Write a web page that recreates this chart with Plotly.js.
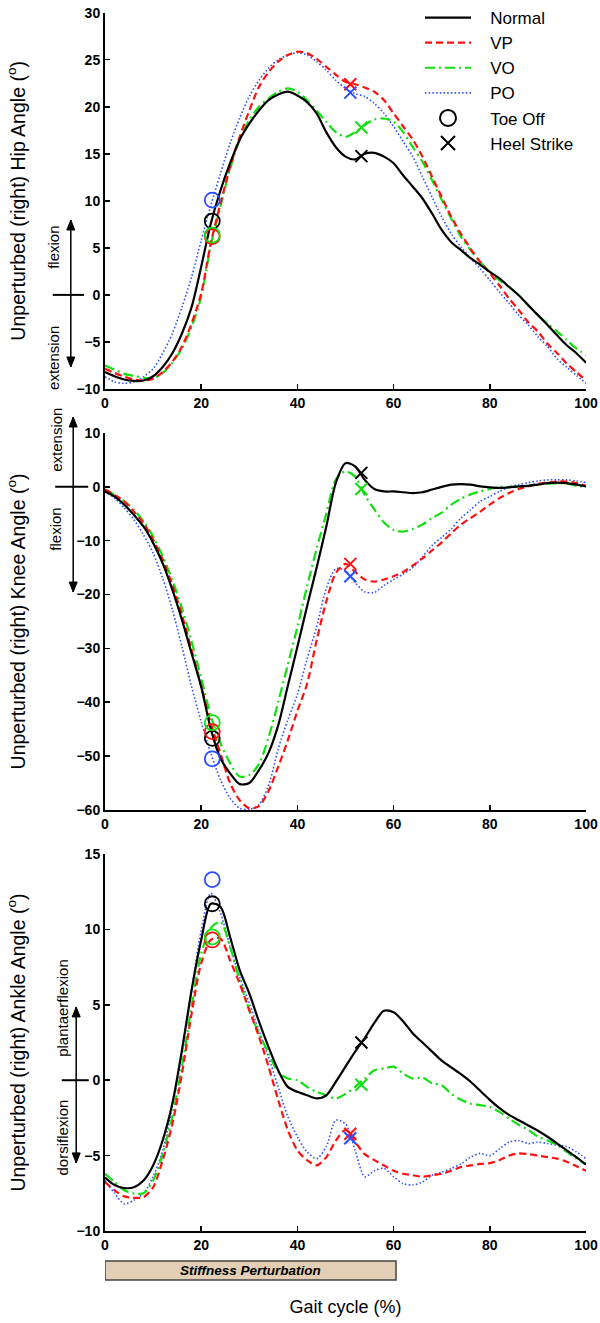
<!DOCTYPE html>
<html>
<head>
<meta charset="utf-8">
<script src="https://cdn.plot.ly/plotly-3.0.1.min.js"></script>
<style>
  html, body { margin: 0; padding: 0; background: #ffffff; }
  #plot { width: 600px; height: 1323px; }
</style>
</head>
<body>
<div id="plot"></div>
<script>
// gait cycle sample points (%)
const GAIT = [0, 2, 4, 6, 8, 10, 12, 14, 16, 18, 20, 22, 24, 26, 28, 30, 32, 34, 36, 38, 40,
  42, 44, 46, 48, 50, 52, 54, 56, 58, 60, 62, 64, 66, 68, 70, 72, 74, 76, 78, 80,
  82, 84, 86, 88, 90, 92, 94, 96, 98, 100];

const SERIES = ["Normal", "VP", "VO", "PO"];

// hip angle (deg)
const HIP_NORMAL = [-8.2, -8.65, -9.0, -9.15, -9.1, -8.65, -7.66, -6.2, -4.1, -1.3, 3.0, 7.6, 11.1, 14.0, 16.5, 18.2, 19.6, 20.7, 21.3, 21.6, 21.2,
  20.5, 19.3, 17.3, 15.7, 14.7, 14.4, 15.0, 15.1, 14.7, 14.0, 12.7, 11.5, 10.25, 8.65, 6.9, 5.6, 4.75, 3.9, 3.2, 2.45,
  1.75, 0.85, -0.04, -1.1, -2.15, -3.2, -4.3, -5.35, -6.2, -7.2];
const HIP_VP = [-7.85, -8.3, -8.7, -9.0, -9.1, -8.9, -8.2, -7.1, -5.5, -3.05, 0.14, 5.5, 9.7, 13.6, 16.8, 19.6, 22.1, 23.7, 24.8, 25.5, 25.85,
  25.7, 25.1, 24.25, 23.4, 22.65, 22.4, 22.05, 21.6, 20.7, 19.3, 17.9, 16.5, 14.7, 12.55, 10.4, 8.3, 6.5, 4.9, 3.5, 2.3,
  1.0, -0.4, -1.6, -2.9, -3.9, -5.2, -6.2, -7.3, -8.2, -9.1];
const HIP_VO = [-7.5, -7.95, -8.4, -8.6, -8.8, -8.9, -8.3, -7.2, -5.7, -3.4, -0.2, 5.3, 9.4, 13.4, 16.5, 18.6, 20.0, 20.9, 21.6, 21.95, 21.6,
  20.7, 19.6, 18.4, 17.3, 16.8, 17.3, 18.05, 18.65, 18.75, 18.4, 17.3, 15.7, 14.15, 12.2, 10.1, 8.1, 6.2, 4.75, 3.5, 2.45,
  1.55, 0.85, -0.04, -1.1, -2.15, -3.05, -3.9, -4.8, -5.7, -6.4];
const HIP_PO = [-8.7, -9.25, -9.4, -9.25, -8.7, -7.85, -6.2, -4.1, -1.3, 1.9, 5.8, 9.5, 12.9, 16.1, 18.8, 21.1, 22.8, 24.1, 25.0, 25.5, 25.75,
  25.5, 24.8, 23.9, 22.8, 21.95, 21.4, 21.1, 20.35, 19.3, 17.9, 16.3, 14.7, 12.55, 10.4, 8.3, 6.5, 5.1, 3.9, 2.8, 1.55,
  0.3, -0.9, -2.15, -3.2, -4.45, -5.5, -6.8, -7.7, -8.55, -9.4];

// knee angle (deg)
const KNEE_NORMAL = [-0.85, -1.8, -3.3, -5.2, -7.35, -10.4, -14.2, -19.1, -24.7, -30.9, -37.1, -45.0, -50.4, -53.2, -55.2, -55.0, -52.6, -49.4, -44.3, -37.0, -29.7,
  -22.2, -15.0, -7.4, 0.8, 4.4, 3.8, 1.3, -0.4, -0.85, -0.85, -1.0, -1.15, -1.0, -0.5, 0.0, 0.4, 0.5, 0.4, 0.1, -0.1,
  -0.2, -0.1, 0.1, 0.2, 0.4, 0.7, 0.8, 0.7, 0.4, 0.1];
const KNEE_VP = [-0.5, -1.5, -2.7, -4.6, -6.7, -9.8, -13.5, -18.2, -23.8, -30.3, -37.1, -44.0, -49.5, -55.0, -58.2, -59.7, -59.3, -56.5, -52.0, -47.1, -41.6,
  -36.6, -28.5, -21.3, -16.0, -14.3, -15.8, -17.2, -17.6, -17.2, -16.6, -15.8, -14.6, -13.3, -11.8, -10.3, -8.6, -7.0, -5.8, -4.6, -3.3,
  -2.1, -1.15, -0.4, 0.1, 0.6, 0.8, 1.0, 1.0, 0.7, 0.2];
const KNEE_VO = [-0.5, -1.5, -2.7, -4.25, -6.4, -9.2, -12.9, -17.3, -22.5, -28.7, -35.5, -42.5, -47.6, -51.3, -53.8, -53.5, -51.5, -46.5, -40.0, -33.0, -26.0,
  -18.5, -11.5, -5.0, 1.4, 2.9, 1.9, -1.5, -4.2, -6.6, -8.0, -8.3, -7.8, -7.0, -5.8, -4.8, -3.3, -2.2, -1.4, -0.85, -0.4,
  0.0, 0.0, 0.0, 0.2, 0.4, 0.6, 0.7, 0.6, 0.2, 0.0];
const KNEE_PO = [-0.85, -2.1, -3.9, -6.1, -8.9, -12.3, -17.0, -22.8, -29.7, -37.1, -43.6, -49.5, -54.4, -57.8, -59.7, -59.9, -59.0, -55.5, -48.7, -43.3, -38.5,
  -32.0, -26.0, -18.9, -15.2, -15.6, -17.8, -19.5, -19.6, -18.3, -17.2, -16.2, -15.0, -13.0, -10.9, -9.4, -7.8, -5.8, -4.25, -2.7, -1.8,
  -0.85, 0.0, 0.4, 0.8, 1.1, 1.3, 1.3, 1.3, 1.1, 0.8];

// ankle angle (deg)
const ANKLE_NORMAL = [-6.45, -6.95, -7.15, -7.1, -6.65, -5.65, -3.98, -1.55, 2.0, 5.97, 9.3, 11.7, 11.5, 9.5, 7.3, 5.75, 3.9, 2.2, 0.66, -0.44, -0.77,
  -1.0, -1.2, -1.0, -0.1, 0.9, 1.9, 2.8, 3.8, 4.6, 4.5, 3.9, 3.1, 2.5, 1.9, 1.3, 0.85, 0.4, -0.1, -0.7, -1.3,
  -1.85, -2.3, -2.65, -3.0, -3.35, -3.75, -4.2, -4.65, -5.1, -5.6];
const ANKLE_VP = [-6.75, -7.3, -7.7, -7.8, -7.75, -7.1, -5.3, -2.9, 0.44, 4.4, 7.75, 9.3, 9.4, 7.95, 6.4, 4.65, 2.9, 0.9, -1.3, -3.3, -4.65,
  -5.3, -5.65, -5.1, -4.0, -3.3, -4.1, -4.9, -5.3, -5.65, -6.0, -6.2, -6.3, -6.4, -6.3, -6.2, -6.0, -5.75, -5.65, -5.55, -5.5,
  -5.3, -5.0, -4.85, -4.9, -5.0, -5.1, -5.2, -5.4, -5.7, -6.0];
const ANKLE_VO = [-6.2, -6.75, -7.3, -7.5, -7.5, -6.65, -4.9, -2.4, 0.9, 4.9, 8.4, 10.1, 10.5, 8.85, 6.6, 4.65, 3.1, 1.8, 0.55, 0.11, 0.0,
  -0.44, -0.77, -1.0, -1.2, -0.9, -0.44, 0.11, 0.66, 0.77, 0.9, 0.44, 0.11, 0.18, -0.2, -0.33, -0.9, -1.3, -1.55, -1.65, -1.77,
  -2.1, -2.55, -2.95, -3.3, -3.75, -4.0, -4.3, -4.75, -5.2, -5.55];
const ANKLE_PO = [-6.65, -7.5, -8.2, -7.95, -7.5, -6.4, -4.65, -1.77, 1.77, 5.97, 9.95, 12.4, 11.1, 8.85, 6.85, 5.1, 3.3, 1.55, -0.44, -2.4, -3.75,
  -4.75, -5.2, -4.4, -2.65, -2.9, -4.65, -6.4, -6.0, -5.85, -6.4, -6.85, -6.95, -6.75, -6.3, -6.1, -5.85, -5.55, -5.1, -4.85, -5.0,
  -4.55, -4.1, -4.0, -4.2, -4.1, -4.2, -4.3, -4.4, -4.75, -5.2];

// events, order: Normal, VP, VO, PO
const TOE_OFF_X = [22.3, 22.3, 22.3, 22.3];
const HIP_TOE_OFF = [7.85, 6.2, 6.35, 10.07];
const KNEE_TOE_OFF = [-46.7, -45.45, -43.8, -50.5];
const ANKLE_TOE_OFF = [11.7, 9.3, 9.5, 13.3];
const HEEL_X = [53.3, 51, 53.3, 51];
const HIP_HEEL = [14.75, 22.4, 17.8, 21.5];
const KNEE_HEEL = [2.6, -14.3, -0.4, -16.6];
const ANKLE_HEEL = [2.5, -3.55, -0.3, -3.85];

const PERTURB_RANGE = [0, 60.5];

const FONT = "Liberation Sans, Arial, Helvetica, sans-serif";
const COLORS = { Normal: "#000000", VP: "#ff1010", VO: "#10e010", PO: "#2a4dff" };
const LINES = {
  Normal: { width: 2.2, dash: "solid" },
  VP: { width: 2.2, dash: "7px,4px" },
  VO: { width: 2.2, dash: "10px,4px,2px,4px" },
  PO: { width: 1.6, dash: "1.5px,2.2px" },
};
const DRAW_ORDER = ["PO", "VO", "VP", "Normal"];
const GAP = "&nbsp;&nbsp;&nbsp;";

function panelTraces(xa, ya, values, toeOff, heel, withLegend) {
  const traces = [];
  for (const name of DRAW_ORDER) {
    traces.push({
      type: "scatter",
      mode: "lines",
      name: GAP + name,
      x: GAIT,
      y: values[name],
      xaxis: xa,
      yaxis: ya,
      line: { color: COLORS[name], width: LINES[name].width, dash: LINES[name].dash, shape: "spline", smoothing: 0.8 },
      showlegend: withLegend,
      legendrank: SERIES.indexOf(name) + 1,
      hoverinfo: "skip",
    });
  }
  const colorList = SERIES.map((s) => COLORS[s]);
  traces.push({
    type: "scatter",
    mode: "markers",
    x: TOE_OFF_X,
    y: toeOff,
    xaxis: xa,
    yaxis: ya,
    marker: { symbol: "circle-open", size: 15, color: colorList, line: { width: 1.8, color: colorList } },
    showlegend: false,
  });
  traces.push({
    type: "scatter",
    mode: "markers",
    x: HEEL_X,
    y: heel,
    xaxis: xa,
    yaxis: ya,
    marker: { symbol: "x-thin-open", size: 12, color: colorList, line: { width: 2, color: colorList } },
    showlegend: false,
  });
  return traces;
}

const data = [
  ...panelTraces("x", "y", { Normal: HIP_NORMAL, VP: HIP_VP, VO: HIP_VO, PO: HIP_PO }, HIP_TOE_OFF, HIP_HEEL, true),
  ...panelTraces("x2", "y2", { Normal: KNEE_NORMAL, VP: KNEE_VP, VO: KNEE_VO, PO: KNEE_PO }, KNEE_TOE_OFF, KNEE_HEEL, false),
  ...panelTraces("x3", "y3", { Normal: ANKLE_NORMAL, VP: ANKLE_VP, VO: ANKLE_VO, PO: ANKLE_PO }, ANKLE_TOE_OFF, ANKLE_HEEL, false),
  // legend-only entries for the event markers
  {
    type: "scatter", mode: "markers", name: GAP + "Toe Off", x: [null], y: [null],
    marker: { symbol: "circle-open", size: 16, color: "#000", line: { width: 2, color: "#000" } },
    legendrank: 5,
  },
  {
    type: "scatter", mode: "markers", name: GAP + "Heel Strike", x: [null], y: [null],
    marker: { symbol: "x-thin-open", size: 14, color: "#000", line: { width: 2, color: "#000" } },
    legendrank: 6,
  },
];

const XDOMAIN = [0.175, 0.9767];
const TITLE_FONT = { family: FONT, size: 19.5, color: "#000" };

function xAxis(anchor, titleText) {
  const ax = {
    domain: XDOMAIN, anchor, range: [0, 100], dtick: 20,
    showline: true, linecolor: "#000", linewidth: 2,
    ticks: "inside", ticklen: 5, tickwidth: 1.5, tickcolor: "#000",
    showgrid: false, zeroline: false,
    tickfont: { family: FONT, size: 14, color: "#000", weight: "bold" },
  };
  if (titleText) ax.title = { text: titleText, font: { family: FONT, size: 18, color: "#000" }, standoff: 49 };
  return ax;
}
function yAxis(anchor, domain, range, dtick, titleText) {
  return {
    domain, anchor, range, dtick,
    showline: true, linecolor: "#000", linewidth: 2,
    ticks: "inside", ticklen: 5, tickwidth: 1.5, tickcolor: "#000",
    showgrid: false, zeroline: false,
    tickfont: { family: FONT, size: 14, color: "#000", weight: "bold" },
    title: { text: titleText, font: TITLE_FONT, standoff: 46 },
  };
}

function rotatedLabel(text, xPaper, yref, y, size) {
  return {
    text, xref: "paper", x: xPaper, yref, y, textangle: -90, showarrow: false,
    xanchor: "center", yanchor: "middle",
    font: { family: FONT, size, color: "#000" },
  };
}
// vertical double-headed arrow: shaft plus two pixel-sized heads (paper coords)
function doubleArrow(xPaper, yTop, yBottom) {
  const line = { color: "#000", width: 1.5 };
  return [
    { type: "line", xref: "paper", yref: "paper", x0: xPaper, x1: xPaper, y0: yTop, y1: yBottom, line },
    {
      type: "path", xref: "paper", yref: "paper", xsizemode: "pixel", ysizemode: "pixel",
      xanchor: xPaper, yanchor: yTop, path: "M0,0 L-4,-10 L4,-10 Z",
      fillcolor: "#000", line: { color: "#000", width: 1 },
    },
    {
      type: "path", xref: "paper", yref: "paper", xsizemode: "pixel", ysizemode: "pixel",
      xanchor: xPaper, yanchor: yBottom, path: "M0,0 L-4,10 L4,10 Z",
      fillcolor: "#000", line: { color: "#000", width: 1 },
    },
  ];
}
function zeroTick(yref, x0, x1) {
  return { type: "line", xref: "paper", yref, x0, x1, y0: 0, y1: 0, line: { color: "#000", width: 2 } };
}

const layout = {
  width: 600,
  height: 1323,
  paper_bgcolor: "#ffffff",
  plot_bgcolor: "#ffffff",
  margin: { l: 0, r: 0, t: 0, b: 0 },
  font: { family: FONT, color: "#000" },
  xaxis: xAxis("y"),
  yaxis: yAxis("x", [0.706, 0.9904], [-10, 30], 5, "Unperturbed (right) Hip Angle (<sup>o</sup>)"),
  xaxis2: xAxis("y2"),
  yaxis2: yAxis("x2", [0.3878, 0.6727], [-60, 10], 10, "Unperturbed (right) Knee Angle (<sup>o</sup>)"),
  xaxis3: xAxis("y3", "Gait cycle (%)"),
  yaxis3: yAxis("x3", [0.0695, 0.3545], [-10, 15], 5, "Unperturbed (right) Ankle Angle (<sup>o</sup>)"),
  showlegend: true,
  legend: {
    x: 0.70, y: 1.0, xanchor: "left", yanchor: "top",
    bgcolor: "rgba(0,0,0,0)",
    font: { family: FONT, size: 17, color: "#000" },
    itemwidth: 46,
    tracegroupgap: 0,
  },
  shapes: [
    zeroTick("y", 0.088, 0.14),
    zeroTick("y2", 0.092, 0.147),
    zeroTick("y3", 0.103, 0.148),
    ...doubleArrow(0.118, 0.8337, 0.7226),
    ...doubleArrow(0.122, 0.6848, 0.5525),
    ...doubleArrow(0.127, 0.2389, 0.1210),
    {
      type: "rect", xref: "x3", yref: "paper",
      x0: PERTURB_RANGE[0], x1: PERTURB_RANGE[1], y0: 0.0325, y1: 0.0469,
      fillcolor: "#e2cfb5", line: { color: "#444444", width: 1.5 },
    },
  ],
  annotations: [
    rotatedLabel("flexion", 0.09, "y", 5.0, 15),
    rotatedLabel("extension", 0.09, "y", -6.7, 15),
    rotatedLabel("extension", 0.093, "y2", 8.7, 15),
    rotatedLabel("flexion", 0.093, "y2", -7.8, 15),
    rotatedLabel("plantaerflexion", 0.105, "y3", 4.8, 15),
    rotatedLabel("dorsiflexion", 0.105, "y3", -3.8, 15),
    {
      text: "<b><i>Stiffness Perturbation</i></b>", xref: "x3", yref: "paper",
      x: (PERTURB_RANGE[0] + PERTURB_RANGE[1]) / 2, y: 0.0397, yanchor: "middle", showarrow: false,
      font: { family: FONT, size: 13.5, color: "#000" },
    },
  ],
};

Plotly.newPlot("plot", data, layout, { staticPlot: true, displayModeBar: false });
</script>
</body>
</html>
